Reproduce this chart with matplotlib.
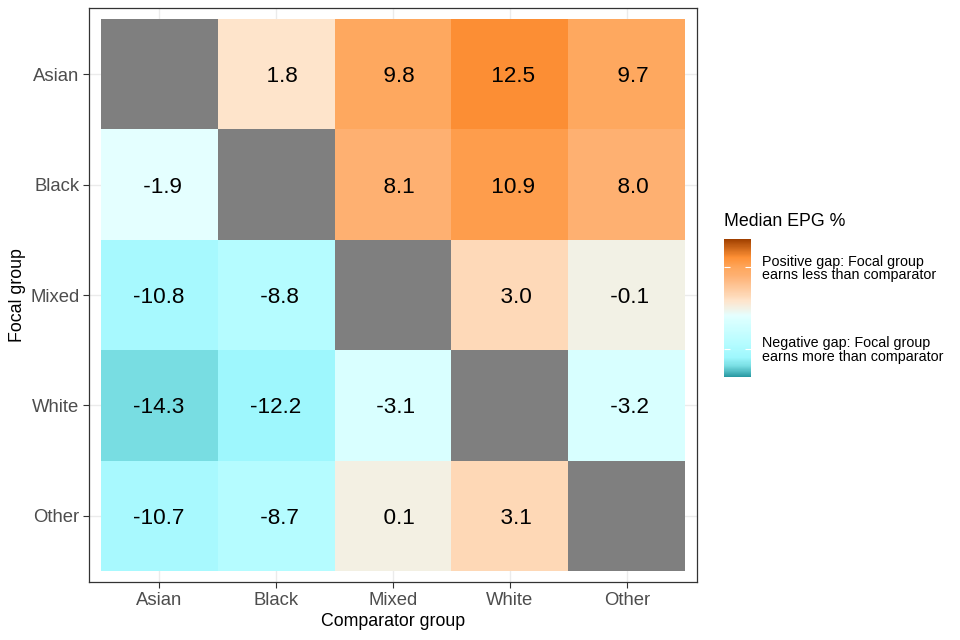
import matplotlib
matplotlib.use('Agg')
import matplotlib.pyplot as plt
import matplotlib.colors as clr
import numpy as np

plt.rcParams['font.family'] = ['Liberation Sans', 'DejaVu Sans']

groups = ['Asian', 'Black', 'Mixed', 'White', 'Other']

# rows = focal group, columns = comparator group (nan on the diagonal)
gap = np.array([
    [np.nan, 1.8, 9.8, 12.5, 9.7],
    [-1.9, np.nan, 8.1, 10.9, 8.0],
    [-10.8, -8.8, np.nan, 3.0, -0.1],
    [-14.3, -12.2, -3.1, np.nan, -3.2],
    [-10.7, -8.7, 0.1, 3.1, np.nan],
])

legend_breaks = [-10, 10]
legend_labels = ['Negative gap: Focal group\nearns more than comparator',
                 'Positive gap: Focal group\nearns less than comparator']

vmin, vmax = -17, 17
nodes = [(-17, '#2a9aa3'), (-14.3, '#79dee3'), (-12.2, '#9ef7fd'),
         (-8.8, '#b5fcff'), (-3.0, '#daffff'), (-1.9, '#e4ffff'),
         (0.0, '#f3f0e4'), (1.8, '#fee4cb'), (3.0, '#fed9b8'),
         (8.0, '#feb072'), (9.8, '#fea85f'), (12.5, '#fe9035'),
         (17, '#a04000')]
cmap = clr.LinearSegmentedColormap.from_list(
    'epg', [((v - vmin) / (vmax - vmin), c) for v, c in nodes])
cmap.set_bad('#7f7f7f')
norm = clr.Normalize(vmin=vmin, vmax=vmax)

fig = plt.figure(figsize=(9.6, 6.4), dpi=100, facecolor='white')
ax = fig.add_axes([89 / 960, 1 - 582 / 640, 608 / 960, 574 / 640])

n = len(groups)
ax.set_axisbelow(True)
ax.grid(True, color='#ebebeb', linewidth=1.0)
mesh = ax.pcolormesh(np.arange(n + 1) - 0.5, np.arange(n + 1) - 0.5,
                     np.ma.masked_invalid(gap), cmap=cmap, norm=norm,
                     zorder=2)

for i in range(n):
    for j in range(n):
        if not np.isnan(gap[i, j]):
            ax.text(j, i, f'{gap[i, j]:5.1f}', ha='center',
                    va='center_baseline', fontsize=16.2, color='black',
                    zorder=3)

ax.set_xlim(-0.6, n - 0.4)
ax.set_ylim(n - 0.4, -0.6)
ax.set_xticks(range(n))
ax.set_xticklabels(groups)
ax.set_yticks(range(n))
ax.set_yticklabels(groups)
ax.tick_params(axis='both', labelsize=13.3, labelcolor='#4d4d4d',
               color='#333333', length=4, width=0.8, pad=3)
for s in ax.spines.values():
    s.set_color('#333333')
    s.set_linewidth(0.9)
ax.set_xlabel('Comparator group', fontsize=12.8, labelpad=3)
ax.set_ylabel('Focal group', fontsize=12.8, labelpad=3)

# legend bar
cax = fig.add_axes([724 / 960, 1 - 377 / 640, 27 / 960, 138 / 640])
cbar = fig.colorbar(mesh, cax=cax)
cbar.outline.set_visible(False)
cbar.set_ticks(legend_breaks)
cbar.set_ticklabels(legend_labels)
cax.tick_params(left=True, right=True, direction='in', color='white',
                length=4, width=0.8, labelsize=10.3, pad=8)
for t in cax.get_yticklabels():
    t.set_linespacing(0.95)
fig.text(724 / 960, 1 - 222 / 640, 'Median EPG %', fontsize=12.8,
         ha='left', va='center')

fig.savefig('out.png', dpi=100)
